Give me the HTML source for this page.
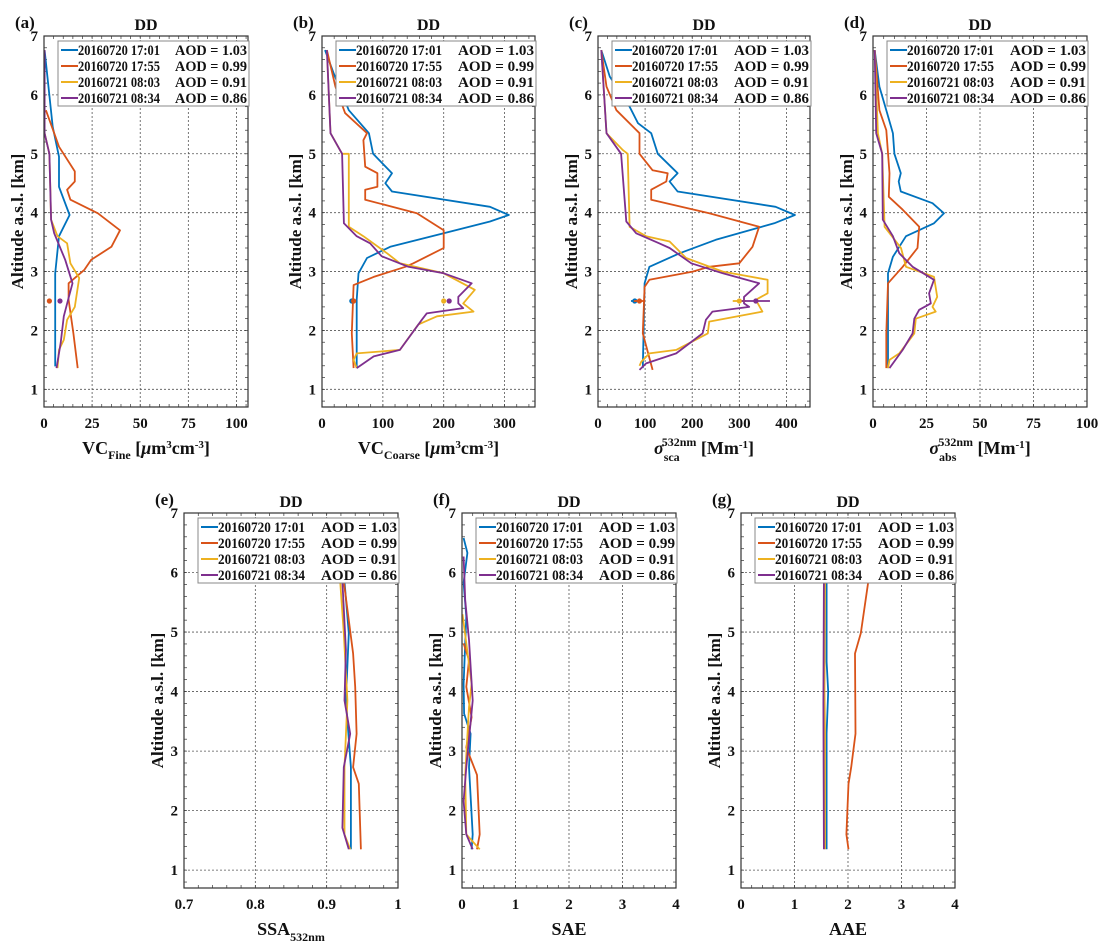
<!DOCTYPE html>
<html><head><meta charset="utf-8">
<style>
html,body{margin:0;padding:0;background:#fff;}
svg text{font-family:"Liberation Serif",serif;font-weight:bold;fill:#111;}
</style></head>
<body>
<svg id="fig" width="1113" height="946" viewBox="0 0 1113 946" xmlns="http://www.w3.org/2000/svg"></svg>
<script>
// ---------- data (altitude km, value) ----------
const seriesNames = ["20160720 17:01","20160720 17:55","20160721 08:03","20160721 08:34"];
const seriesAOD = ["1.03","0.99","0.91","0.86"];
const yTicks = [1,2,3,4,5,6,7];

// (a) VC fine
const aBlueAlt=[6.76,5.46,4.95,4.44,3.96,3.6,2.97,1.39];
const aBlueVal=[0.3,4.5,7.8,7.8,13.3,7.8,5.8,5.8];
const aOrangeAlt=[5.74,5.35,5.12,4.7,4.53,4.39,4.22,3.99,3.7,3.42,3.2,3.03,2.8,2.52,1.95,1.36];
const aOrangeVal=[1,5.3,7.8,16,16,12,13.7,28,39.5,35,24.5,21,12.8,12.8,15.3,17.5];
const aYellowAlt=[6.76,5.35,5.0,3.88,3.6,3.48,3.14,2.89,2.4,2.18,1.84,1.67,1.36];
const aYellowVal=[0.3,0.3,2.8,3.7,7,12,13.7,18.3,16,12,10.3,7.8,7];
const aPurpleAlt=[6.76,5.35,5.0,3.88,3.65,3.2,2.8,2.52,2.24,1.79,1.36];
const aPurpleVal=[0.3,0.3,2.8,3.7,5.3,11,14.8,12.5,10.3,8.7,6.5];
const aMarkVal=[null,2.8,null,8.3];

// (b) VC coarse
const bBlueAlt=[6.76,6.37,5.74,5.35,5.0,4.67,4.5,4.36,4.1,3.96,3.85,3.65,3.42,3.23,2.97,2.52,1.36];
const bBlueVal=[5,19,44,77,84,115,104,115,276,307,276,200,112,74,60,57,57];
const bOrangeAlt=[6.76,6.14,5.69,5.35,5.23,4.78,4.67,4.44,4.39,4.22,3.99,3.7,3.4,3.14,3.08,2.91,2.77,1.95,1.36];
const bOrangeVal=[8,22,38,74,68,71,91,91,71,71,156,200,200,150,137,85,52,49,52];
const bYellowAlt=[6.76,5.35,5.0,5.0,3.76,3.6,3.31,3.14,2.97,2.69,2.46,2.32,2.24,2.1,1.67,1.61,1.5,1.36];
const bYellowVal=[8,14,33,44,44,68,107,128,200,251,232,249,189,158,128,57,52,57];
const bPurpleAlt=[6.76,5.35,5.0,3.82,3.6,3.48,3.26,3.08,2.97,2.8,2.57,2.46,2.38,2.29,2.18,1.67,1.56,1.36];
const bPurpleVal=[8,14,33,36,57,79,98,142,200,246,224,224,232,172,164,128,85,57];
const bMarkVal=[49,52,200,209];

// (c) sigma sca
const cBlueAlt=[6.76,6.31,5.8,5.52,5.35,5.0,4.67,4.53,4.36,4.1,3.96,3.82,3.54,3.31,3.08,2.8,1.36];
const cBlueVal=[7,25,67,85,113,127,169,152,169,377,418,374,250,173,109,99,95];
const cOrangeAlt=[6.76,6.14,5.74,5.35,5.0,4.72,4.67,4.53,4.39,4.22,3.99,3.76,3.42,3.14,3.08,3.0,2.86,2.74,1.95,1.33];
const cOrangeVal=[7,18,39,88,88,116,148,145,113,113,236,342,328,300,236,201,109,99,95,116];
const cYellowAlt=[6.76,5.35,5.06,5.0,3.76,3.6,3.51,3.23,3.0,2.86,2.63,2.52,2.32,2.15,1.95,1.67,1.61,1.47,1.4];
const cYellowVal=[7,18,53,63,67,102,152,187,265,360,360,335,349,236,233,166,109,92,88];
const cPurpleAlt=[6.76,5.35,5.0,3.85,3.65,3.48,3.4,3.14,2.97,2.8,2.57,2.46,2.4,2.32,2.18,1.95,1.61,1.44,1.33];
const cPurpleVal=[7,18,49,60,81,130,152,198,265,342,310,310,321,243,229,222,166,102,88];
const cMarkVal=[78,88,300,335];
const cMarkErr=[8,12,14,30];

// (d) sigma abs
const dBlueAlt=[6.76,6.14,5.74,5.35,5.0,4.67,4.53,4.36,4.16,3.99,3.82,3.6,3.25,2.97,1.36];
const dBlueVal=[0.8,3,6.2,9.3,10,13,12,13,27.8,33.2,28.5,15.4,9.3,7,7];
const dOrangeAlt=[6.76,5.74,5.4,4.67,4.27,4.05,3.76,3.4,3.08,2.8,1.95,1.36];
const dOrangeVal=[0.8,3,6.2,7.7,7.4,13.9,21.6,20.8,13.9,7,6.2,6.2];
const dYellowAlt=[6.76,5.35,5.0,3.76,3.4,3.08,2.91,2.57,2.4,2.32,2.2,1.95,1.61,1.5,1.36];
const dYellowVal=[0.8,2.3,4.3,5.4,13.1,15.4,28.5,30,27.8,29.3,20,19.3,12.3,7.7,7];
const dPurpleAlt=[6.76,5.35,5.0,3.88,3.6,3.31,3.08,2.86,2.63,2.46,2.35,2.2,1.95,1.67,1.36];
const dPurpleVal=[0.8,1.5,4.3,4.6,9.3,12.3,18.5,28.5,26.2,27,21.6,19.3,18.5,13.9,7.7];

// (e) SSA
const eBlueAlt=[5.85,4.98,3.85,2.73,1.35];
const eBlueVal=[0.925,0.931,0.927,0.934,0.934];
const eOrangeAlt=[5.85,4.64,4.08,3.29,2.73,2.45,1.35];
const eOrangeVal=[0.924,0.937,0.94,0.942,0.937,0.945,0.948];
const eYellowAlt=[5.85,4.98,3.85,2.73,1.6,1.35];
const eYellowVal=[0.919,0.924,0.929,0.925,0.925,0.933];
const ePurpleAlt=[5.85,4.7,3.85,3.29,2.73,1.71,1.35];
const ePurpleVal=[0.922,0.927,0.925,0.933,0.924,0.922,0.931];

// (f) SAE
const fBlueAlt=[6.58,6.33,5.83,5.26,4.13,3.63,3.29,2.73,1.6,1.35];
const fBlueVal=[0.03,0.1,0.03,0.08,0.03,0.04,0.16,0.13,0.2,0.18];
const fOrangeAlt=[4.81,4.53,4.08,3.57,3.06,2.6,1.6,1.35];
const fOrangeVal=[0.03,0.13,0.08,0.18,0.08,0.28,0.33,0.28];
const fYellowAlt=[5.3,4.81,4.13,3.74,2.6,1.6,1.35];
const fYellowVal=[0.01,0.08,0.18,0.13,0.06,0.08,0.33];
const fPurpleAlt=[6.27,5.54,4.87,3.85,2.73,2.16,1.6,1.35];
const fPurpleVal=[0.03,0.06,0.13,0.2,0.08,0.03,0.08,0.2];

// (g) AAE
const gBlueAlt=[5.85,4.5,4.0,3.3,1.35];
const gBlueVal=[1.6,1.6,1.63,1.6,1.6];
const gOrangeAlt=[5.85,4.98,4.64,3.29,2.73,2.45,1.6,1.35];
const gOrangeVal=[2.38,2.24,2.13,2.14,2.06,2.01,1.97,2.01];
const gYellowAlt=[5.85,4.0,3.3,1.35];
const gYellowVal=[1.57,1.56,1.57,1.57];
const gPurpleAlt=[5.85,3.8,1.35];
const gPurpleVal=[1.55,1.54,1.55];

const aXTicks=[0,25,50,75,100], bXTicks=[0,100,200,300], cXTicks=[0,100,200,300,400],
      dXTicks=[0,25,50,75,100], eXTicks=[0.7,0.8,0.9,1], fXTicks=[0,1,2,3,4], gXTicks=[0,1,2,3,4];

// ---------- drawing ----------
const NS="http://www.w3.org/2000/svg";
const svg=document.getElementById('fig');
const colors=["#0072BD","#D95319","#EDB120","#7E2F8E"];
function mk(tag,attrs,parent){const e=document.createElementNS(NS,tag);for(const k in attrs)e.setAttribute(k,attrs[k]);(parent||svg).appendChild(e);return e;}

function panel(p){
  const g=mk('g',{});
  
  
  const L=p.L,R=p.R,T=p.T,B=p.B;
  const xs=v=>L+(v-p.xmin)/(p.xmax-p.xmin)*(R-L);
  const ys=a=>T+(7-a)/(7-0.7)*(B-T);
  mk('rect',{x:L,y:T,width:R-L,height:B-T,fill:'#fff',stroke:'none'},g);
  p.xt.forEach(v=>{ if(v===p.xmin) return;
    const l=mk('line',{x1:xs(v),x2:xs(v),y1:T,y2:B,stroke:'#555','stroke-width':0.8,'stroke-dasharray':'2,2'},g);
     });
  yTicks.forEach(v=>{ if(v===7) return;
    const l=mk('line',{x1:L,x2:R,y1:ys(v),y2:ys(v),stroke:'#555','stroke-width':0.8,'stroke-dasharray':'2,2'},g);
     });
  for(let a=0.8;a<7;a+=0.2){const y=ys(a);mk('line',{x1:L,x2:L+3,y1:y,y2:y,stroke:'#333','stroke-width':0.7},g);mk('line',{x1:R,x2:R-3,y1:y,y2:y,stroke:'#333','stroke-width':0.7},g);}
  const step=(p.xt[1]-p.xt[0])/5;
  for(let v=p.xmin+step;v<p.xmax;v+=step){const x=xs(v);mk('line',{x1:x,x2:x,y1:B,y2:B-3,stroke:'#333','stroke-width':0.7},g);mk('line',{x1:x,x2:x,y1:T,y2:T+3,stroke:'#333','stroke-width':0.7},g);}
  p.s.forEach((s,i)=>{
    const pts=s[0].map((a,k)=>xs(s[1][k]).toFixed(1)+','+ys(a).toFixed(1)).join(' ');
    const pl=mk('polyline',{points:pts,fill:'none',stroke:colors[i],'stroke-width':1.8,'stroke-linejoin':'round'},g);
    
    
  });
  if(p.m){p.m.forEach((v,i)=>{ if(v===null) return;
    if(p.err){const e=p.err[i];mk('line',{x1:xs(v-e),x2:xs(v+e),y1:ys(2.5),y2:ys(2.5),stroke:colors[i],'stroke-width':1.8},g);}
    const c=mk('circle',{cx:xs(v),cy:ys(2.5),r:2.6,fill:colors[i]},g);
    
    });}
  mk('rect',{x:L,y:T,width:R-L,height:B-T,fill:'none',stroke:'#333','stroke-width':1.2},g);
  yTicks.forEach(v=>{const t=mk('text',{x:L-6,y:ys(v)+5,'text-anchor':'end','font-size':15},g);t.textContent=v;
     });
  p.xt.forEach(v=>{const t=mk('text',{x:xs(v),y:B+21,'text-anchor':'middle','font-size':15},g);t.textContent=v;
     });
  const yt=mk('text',{x:0,y:0,transform:`translate(${L-21},${(T+B)/2}) rotate(-90)`,'text-anchor':'middle','font-size':17},g);
  yt.textContent='Altitude a.s.l. [km]';
   
  const xt=mk('text',{x:(L+R)/2,y:B+47,'text-anchor':'middle','font-size':18},g);
  xt.innerHTML=p.xtitle;
   
  const tt=mk('text',{x:(L+R)/2,y:T-6,'text-anchor':'middle','font-size':16},g);tt.textContent='DD';
   
  const lb=mk('text',{x:L-29,y:T-8,'font-size':17},g);lb.textContent='('+p.id+')';
   
  const lg=mk('g',{},g);
  
  
  const lx=L+14, lw=R-lx+1;
  const nameLen=Math.round((lw-24)*0.49), aodLen=Math.round((lw-24)*0.43);
  mk('rect',{x:lx,y:T+5,width:lw,height:65,fill:'#fff',stroke:'#888','stroke-width':1},lg);
  seriesNames.forEach((n,i)=>{const y=T+14+i*16;
    const e=mk('g',{},lg);
    
    
    mk('line',{x1:lx+3,x2:lx+20,y1:y,y2:y,stroke:colors[i],'stroke-width':2},e);
    const t1=mk('text',{x:lx+20,y:y+5,'font-size':14.5,textLength:nameLen,lengthAdjust:'spacingAndGlyphs'},e);t1.textContent=n;
    const t2=mk('text',{x:lx+lw-2-aodLen,y:y+5,'font-size':14.5,textLength:aodLen,lengthAdjust:'spacingAndGlyphs'},e);t2.textContent='AOD = '+seriesAOD[i];
  });
}

const TT=36,TB=407,BT=513,BB=888;
panel({id:'a',L:44,R:248,T:TT,B:TB,xmin:0,xmax:106,xt:aXTicks,
  s:[[aBlueAlt,aBlueVal],[aOrangeAlt,aOrangeVal],[aYellowAlt,aYellowVal],[aPurpleAlt,aPurpleVal]],m:aMarkVal,
  xtitle:'VC<tspan font-size="12" dy="5">Fine</tspan><tspan dy="-5"> [</tspan><tspan font-style="italic">μ</tspan>m<tspan font-size="11" dy="-6">3</tspan><tspan dy="6">cm</tspan><tspan font-size="11" dy="-6">-3</tspan><tspan dy="6">]</tspan>'});
panel({id:'b',L:322,R:535,T:TT,B:TB,xmin:0,xmax:350,xt:bXTicks,
  s:[[bBlueAlt,bBlueVal],[bOrangeAlt,bOrangeVal],[bYellowAlt,bYellowVal],[bPurpleAlt,bPurpleVal]],m:bMarkVal,
  xtitle:'VC<tspan font-size="12" dy="5">Coarse</tspan><tspan dy="-5"> [</tspan><tspan font-style="italic">μ</tspan>m<tspan font-size="11" dy="-6">3</tspan><tspan dy="6">cm</tspan><tspan font-size="11" dy="-6">-3</tspan><tspan dy="6">]</tspan>'});
panel({id:'c',L:598,R:810,T:TT,B:TB,xmin:0,xmax:450,xt:cXTicks,
  s:[[cBlueAlt,cBlueVal],[cOrangeAlt,cOrangeVal],[cYellowAlt,cYellowVal],[cPurpleAlt,cPurpleVal]],m:cMarkVal,err:cMarkErr,
  xtitle:'<tspan font-style="italic">σ</tspan><tspan font-size="12" dy="7">sca</tspan><tspan font-size="12" dx="-18" dy="-15">532nm</tspan><tspan dy="8"> [Mm</tspan><tspan font-size="11" dy="-6">-1</tspan><tspan dy="6">]</tspan>'});
panel({id:'d',L:873,R:1087,T:TT,B:TB,xmin:0,xmax:100,xt:dXTicks,
  s:[[dBlueAlt,dBlueVal],[dOrangeAlt,dOrangeVal],[dYellowAlt,dYellowVal],[dPurpleAlt,dPurpleVal]],
  xtitle:'<tspan font-style="italic">σ</tspan><tspan font-size="12" dy="7">abs</tspan><tspan font-size="12" dx="-18" dy="-15">532nm</tspan><tspan dy="8"> [Mm</tspan><tspan font-size="11" dy="-6">-1</tspan><tspan dy="6">]</tspan>'});
panel({id:'e',L:184,R:398,T:BT,B:BB,xmin:0.7,xmax:1,xt:eXTicks,
  s:[[eBlueAlt,eBlueVal],[eOrangeAlt,eOrangeVal],[eYellowAlt,eYellowVal],[ePurpleAlt,ePurpleVal]],
  xtitle:'SSA<tspan font-size="12" dy="6">532nm</tspan>'});
panel({id:'f',L:462,R:676,T:BT,B:BB,xmin:0,xmax:4,xt:fXTicks,
  s:[[fBlueAlt,fBlueVal],[fOrangeAlt,fOrangeVal],[fYellowAlt,fYellowVal],[fPurpleAlt,fPurpleVal]],
  xtitle:'SAE'});
panel({id:'g',L:741,R:955,T:BT,B:BB,xmin:0,xmax:4,xt:gXTicks,
  s:[[gBlueAlt,gBlueVal],[gOrangeAlt,gOrangeVal],[gYellowAlt,gYellowVal],[gPurpleAlt,gPurpleVal]],
  xtitle:'AAE'});
</script>
</body></html>
